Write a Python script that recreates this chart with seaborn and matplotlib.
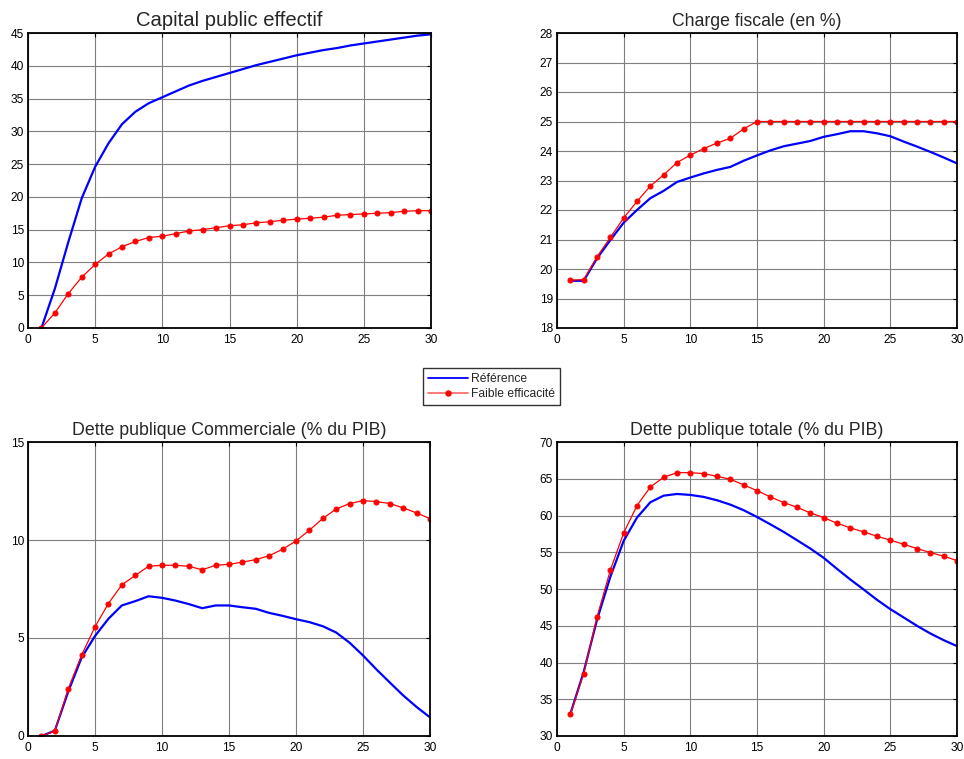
import matplotlib
matplotlib.use("Agg")
import matplotlib.pyplot as plt
from matplotlib.lines import Line2D
import seaborn as sns
import pandas as pd

# Horizon (années)
periods = list(range(1, 31))

# Capital public effectif
capital_ref = [0.0, 6.0, 13.1, 19.8, 24.6, 28.2, 31.1, 33.0, 34.3, 35.2,
               36.1, 37.0, 37.7, 38.3, 38.9, 39.5, 40.1, 40.6, 41.1, 41.6,
               42.0, 42.4, 42.7, 43.1, 43.4, 43.7, 44.0, 44.3, 44.6, 44.8]
capital_low = [0.0, 2.3, 5.25, 7.75, 9.7, 11.3, 12.4, 13.2, 13.8, 14.0,
               14.4, 14.8, 15.0, 15.3, 15.6, 15.75, 16.05, 16.2, 16.45, 16.6,
               16.75, 16.9, 17.2, 17.3, 17.4, 17.5, 17.6, 17.8, 17.9, 17.9]

# Charge fiscale (en %)
tax_ref = [19.6, 19.6, 20.36, 20.98, 21.57, 22.0, 22.4, 22.65, 22.95, 23.1,
           23.24, 23.36, 23.46, 23.67, 23.85, 24.02, 24.16, 24.25, 24.34, 24.48,
           24.57, 24.67, 24.67, 24.6, 24.5, 24.32, 24.15, 23.97, 23.78, 23.58]
tax_low = [19.62, 19.64, 20.41, 21.07, 21.73, 22.29, 22.81, 23.19, 23.61, 23.86,
           24.08, 24.27, 24.43, 24.75, 25.0, 25.0, 25.0, 25.0, 25.0, 25.0,
           25.0, 25.0, 25.0, 25.0, 25.0, 25.0, 25.0, 25.0, 25.0, 25.0]

# Dette publique commerciale (% du PIB)
comm_ref = [0.0, 0.27, 2.26, 4.0, 5.1, 5.98, 6.66, 6.88, 7.13, 7.05,
            6.91, 6.73, 6.52, 6.66, 6.66, 6.57, 6.49, 6.28, 6.13, 5.96,
            5.81, 5.6, 5.28, 4.76, 4.11, 3.4, 2.73, 2.07, 1.48, 0.95]
comm_low = [0.0, 0.25, 2.4, 4.13, 5.57, 6.76, 7.71, 8.19, 8.66, 8.71,
            8.71, 8.66, 8.48, 8.71, 8.76, 8.87, 9.0, 9.2, 9.53, 9.95,
            10.5, 11.1, 11.58, 11.86, 12.01, 11.96, 11.86, 11.64, 11.38, 11.09]

# Dette publique totale (% du PIB)
total_ref = [33.0, 38.7, 45.8, 51.65, 56.55, 59.72, 61.8, 62.7, 62.93, 62.8,
             62.53, 62.07, 61.48, 60.72, 59.8, 58.8, 57.77, 56.64, 55.5, 54.24,
             52.74, 51.29, 49.93, 48.53, 47.26, 46.13, 44.99, 43.95, 43.04, 42.23]
total_low = [32.94, 38.5, 46.17, 52.56, 57.63, 61.35, 63.88, 65.2, 65.83, 65.83,
             65.7, 65.33, 64.93, 64.16, 63.39, 62.53, 61.76, 61.12, 60.35, 59.72,
             58.95, 58.31, 57.77, 57.18, 56.64, 56.09, 55.5, 54.96, 54.46, 53.87]

titles = ["Capital public effectif", "Charge fiscale (en %)",
          "Dette publique Commerciale (% du PIB)", "Dette publique totale (% du PIB)"]
series = [(capital_ref, capital_low), (tax_ref, tax_low),
          (comm_ref, comm_low), (total_ref, total_low)]
ylims = [(0, 45), (18, 28), (0, 15), (30, 70)]
ysteps = [5, 1, 5, 5]
title_sizes = [14.6, 12.7, 12.8, 12.8]
labels = ["Référence", "Faible efficacité"]

BLUE = "#0000ff"
RED = "#ff0000"

sns.set_style("white")
plt.rcParams["font.family"] = ["Liberation Sans", "DejaVu Sans"]

fig = plt.figure(figsize=(9.64, 7.59), dpi=100)
positions = [
    [28 / 964, 1 - 328 / 759, 403 / 964, 295 / 759],
    [557 / 964, 1 - 328 / 759, 400 / 964, 295 / 759],
    [28 / 964, 1 - 736 / 759, 402 / 964, 294 / 759],
    [557 / 964, 1 - 736 / 759, 400 / 964, 294 / 759],
]

for pos, title, (ref, low), ylim, ystep, tsize in zip(
        positions, titles, series, ylims, ysteps, title_sizes):
    ax = fig.add_axes(pos)
    df = pd.DataFrame({"t": periods, "ref": ref, "low": low})
    sns.lineplot(data=df, x="t", y="ref", ax=ax, color=BLUE, lw=1.6,
                 legend=False)
    sns.lineplot(data=df, x="t", y="low", ax=ax, color=RED, lw=0.9,
                 marker="o", markersize=3.6, markeredgecolor=RED,
                 legend=False)
    ax.set_xlim(0, 30)
    ax.set_ylim(*ylim)
    ax.set_xticks(range(0, 31, 5))
    ax.set_yticks(list(range(ylim[0], ylim[1] + 1, ystep)))
    ax.set_xlabel("")
    ax.set_ylabel("")
    ax.set_title(title, fontsize=tsize, pad=5)
    ax.grid(True, color="#7f7f7f", lw=0.8)
    ax.tick_params(direction="in", length=3, width=0.8, labelsize=8.6,
                   top=True, right=True, colors="black")
    ax.tick_params(axis="y", pad=3)
    ax.tick_params(axis="x", pad=4)
    for sp in ax.spines.values():
        sp.set_color("black")
        sp.set_linewidth(1.3)

handles = [
    Line2D([], [], color=BLUE, lw=1.3),
    Line2D([], [], color="#ff7070", lw=1.3, marker="o", markersize=3.6,
           markerfacecolor=RED, markeredgecolor=RED),
]
leg = fig.legend(handles, labels, loc="upper left",
                 bbox_to_anchor=(423 / 964, 1 - 368 / 759), borderaxespad=0,
                 fontsize=8.7, frameon=True, fancybox=False, handlelength=3.3,
                 borderpad=0.4, labelspacing=0.3, handletextpad=0.25)
leg.get_frame().set_edgecolor("black")
leg.get_frame().set_linewidth(1.0)

fig.savefig("out.png", dpi=100)
